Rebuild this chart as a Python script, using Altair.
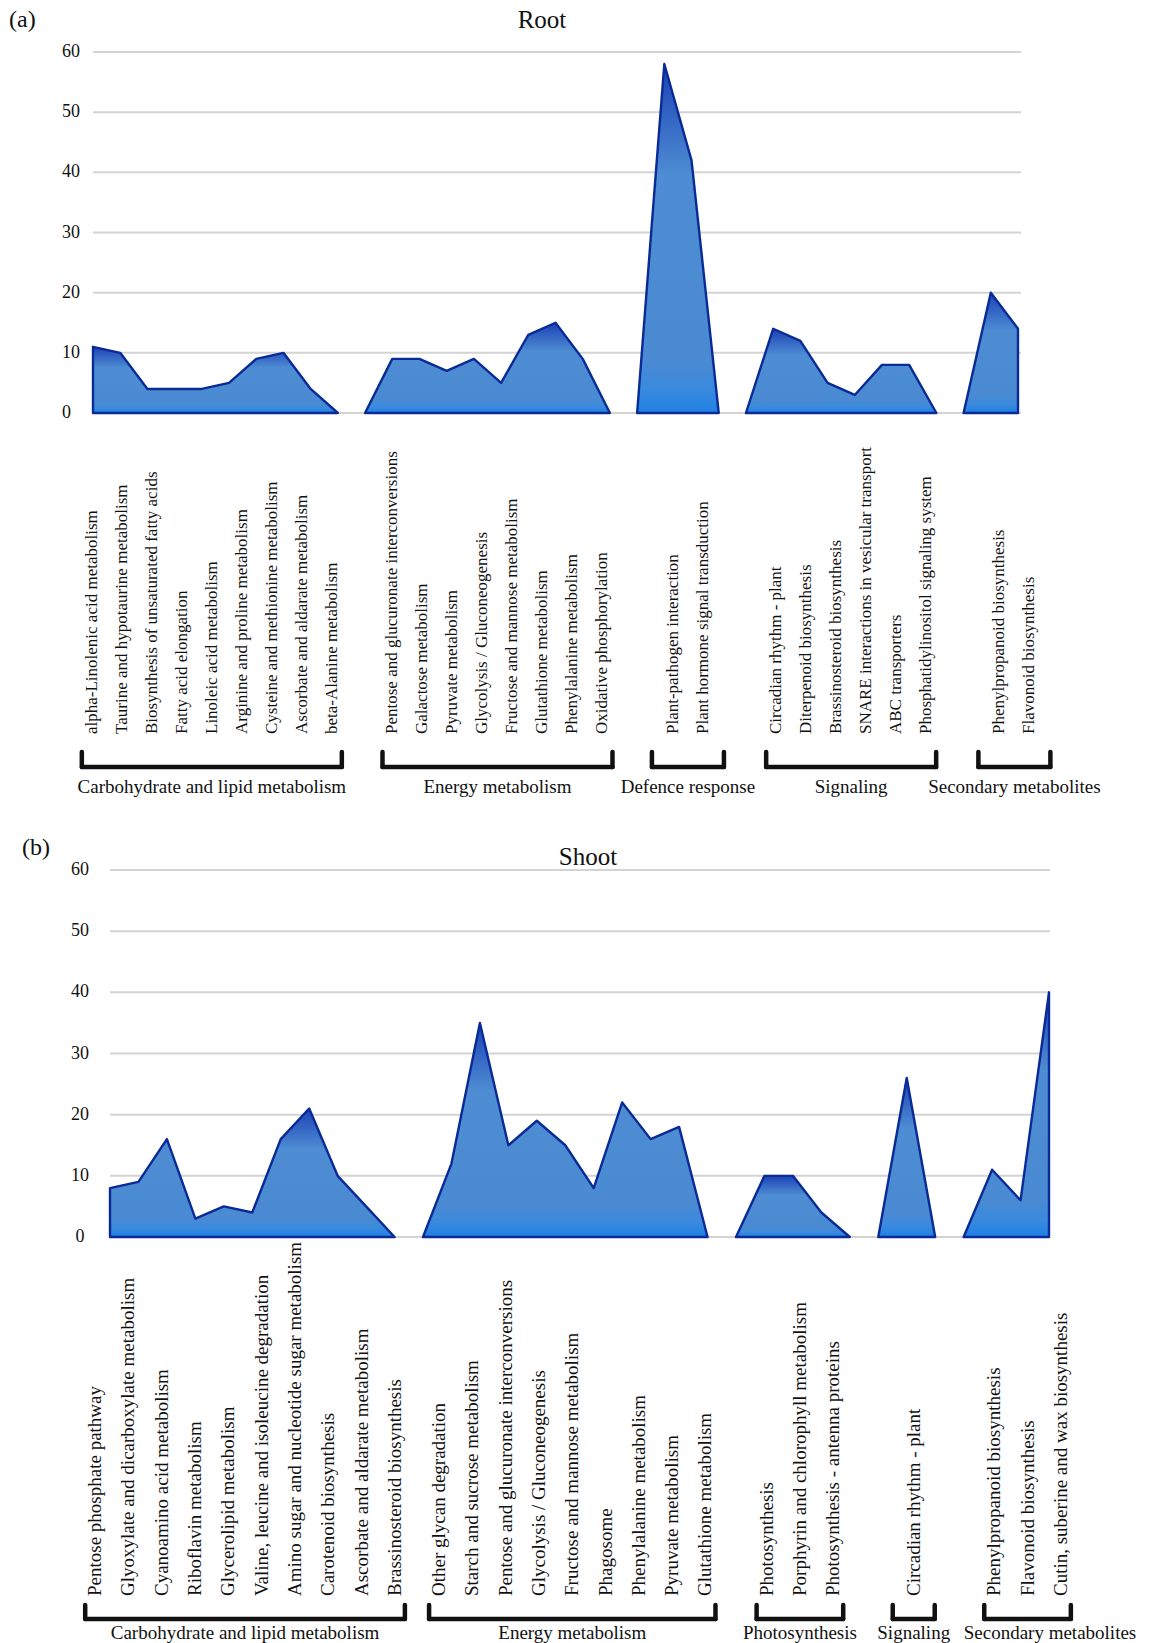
import altair as alt
import pandas as pd

# ---------------- Root ----------------
ROOT_GROUPS = ["Carbohydrate and lipid metabolism", "Energy metabolism",
               "Defence response", "Signaling", "Secondary metabolites"]
ROOT_CARB = [11, 10, 4, 4, 4, 5, 9, 10, 4, 0]
ROOT_ENERGY = [0, 9, 9, 7, 9, 5, 13, 15, 9, 0]
ROOT_DEFENCE = [0, 58, 42, 0]
ROOT_SIGNAL = [0, 14, 12, 5, 3, 8, 8, 0]
ROOT_SECONDARY = [0, 20, 14]

ROOT_CARB_PATHS = ["alpha-Linolenic acid metabolism", "Taurine and hypotaurine metabolism",
                   "Biosynthesis of unsaturated fatty acids", "Fatty acid elongation",
                   "Linoleic acid metabolism", "Arginine and proline metabolism",
                   "Cysteine and methionine metabolism", "Ascorbate and aldarate metabolism",
                   "beta-Alanine metabolism"]
ROOT_ENERGY_PATHS = ["Pentose and glucuronate interconversions", "Galactose metabolism",
                     "Pyruvate metabolism", "Glycolysis / Gluconeogenesis",
                     "Fructose and mannose metabolism", "Glutathione metabolism",
                     "Phenylalanine metabolism", "Oxidative phosphorylation"]
ROOT_DEFENCE_PATHS = ["Plant-pathogen interaction", "Plant hormone signal transduction"]
ROOT_SIGNAL_PATHS = ["Circadian rhythm - plant", "Diterpenoid biosynthesis",
                     "Brassinosteroid biosynthesis", "SNARE interactions in vesicular transport",
                     "ABC transporters", "Phosphatidylinositol signaling system"]
ROOT_SECONDARY_PATHS = ["Phenylpropanoid biosynthesis", "Flavonoid biosynthesis"]

# ---------------- Shoot ----------------
SHOOT_GROUPS = ["Carbohydrate and lipid metabolism", "Energy metabolism",
                "Photosynthesis", "Signaling", "Secondary metabolites"]
SHOOT_CARB = [8, 9, 16, 3, 5, 4, 16, 21, 10, 5, 0]
SHOOT_ENERGY = [0, 12, 35, 15, 19, 15, 8, 22, 16, 18, 0]
SHOOT_PHOTO = [0, 10, 10, 4, 0]
SHOOT_SIGNAL = [0, 26, 0]
SHOOT_SECONDARY = [0, 11, 6, 40]

SHOOT_CARB_PATHS = ["Pentose phosphate pathway", "Glyoxylate and dicarboxylate metabolism",
                    "Cyanoamino acid metabolism", "Riboflavin metabolism",
                    "Glycerolipid metabolism", "Valine, leucine and isoleucine degradation",
                    "Amino sugar and nucleotide sugar metabolism", "Carotenoid biosynthesis",
                    "Ascorbate and aldarate metabolism", "Brassinosteroid biosynthesis"]
SHOOT_ENERGY_PATHS = ["Other glycan degradation", "Starch and sucrose metabolism",
                      "Pentose and glucuronate interconversions", "Glycolysis / Gluconeogenesis",
                      "Fructose and mannose metabolism", "Phagosome",
                      "Phenylalanine metabolism", "Pyruvate metabolism", "Glutathione metabolism"]
SHOOT_PHOTO_PATHS = ["Photosynthesis", "Porphyrin and chlorophyll metabolism",
                     "Photosynthesis - antenna proteins"]
SHOOT_SIGNAL_PATHS = ["Circadian rhythm - plant"]
SHOOT_SECONDARY_PATHS = ["Phenylpropanoid biosynthesis", "Flavonoid biosynthesis",
                         "Cutin, suberine and wax biosynthesis"]

Y_TICKS = [0, 10, 20, 30, 40, 50, 60]

FONT = "Liberation Serif"
FILL = alt.Gradient(
    gradient="linear", x1=1, x2=1, y1=1, y2=0,
    stops=[alt.GradientStop(color="#1f80e4", offset=0.0),
           alt.GradientStop(color="#3a8ade", offset=0.07),
           alt.GradientStop(color="#4a8ad2", offset=0.15),
           alt.GradientStop(color="#4e8dd3", offset=0.68),
           alt.GradientStop(color="#1c42b6", offset=1.0)],
)

ROOT_LAYOUT = dict(title="Root", letter="(a)", title_xy=(542, 20), letter_xy=(9, 20),
                   x_range=(93, 1018), y0=413, y60=52, grid=(93, 1021),
                   tick_x=62, tick_align="left", label_fs=17, label_gap=30.0,
                   label_shift=10, label_bottom=734, br_top=752, br_bottom=767, name_y=787)
SHOOT_LAYOUT = dict(title="Shoot", letter="(b)", title_xy=(588, 857), letter_xy=(22, 848),
                    x_range=(110, 1049), y0=1237, y60=870, grid=(110, 1050),
                    tick_x=80, tick_align="center", label_fs=19, label_gap=33.3,
                    label_shift=7, label_bottom=1596, br_top=1605, br_bottom=1619, name_y=1633)


def panel(groups, series, paths, lay):
    n_points = sum(len(v) for v in series)
    x0, x1 = lay["x_range"]
    step = (x1 - x0) / (n_points - 1)
    xs = alt.Scale(domain=[0, n_points - 1], range=[x0, x1], nice=False, zero=False)
    ys = alt.Scale(domain=[0, 60], range=[lay["y0"], lay["y60"]], nice=False)
    to_idx = lambda px: (px - x0) / step

    pts, labels, spans, ends, names = [], [], [], [], []
    start = 0
    prev_right = -1e9
    for g, vals, plist in zip(groups, series, paths):
        for k, v in enumerate(vals):
            pts.append({"i": start + k, "v": v, "g": g})
        lo = start + (1 if vals[0] == 0 else 0)
        hi = start + len(vals) - 1 - (1 if vals[-1] == 0 else 0)
        centre = x0 + step * (lo + hi) / 2 + lay["label_shift"]
        n = len(plist)
        lab_px = [centre + (k - (n - 1) / 2) * lay["label_gap"] for k in range(n)]
        for p, px in zip(plist, lab_px):
            labels.append({"x": to_idx(px), "t": p})
        pad = 10 if n >= 3 else 21
        b0, b1 = lab_px[0] - pad, lab_px[-1] + pad
        spans.append({"b0": to_idx(b0), "b1": to_idx(b1)})
        ends += [{"b": to_idx(b0)}, {"b": to_idx(b1)}]
        # keep neighbouring group names from running into each other
        half = 0.45 * 19 * len(g) / 2
        c = (b0 + b1) / 2
        if c - half < prev_right + 8:
            c = prev_right + 8 + half
        prev_right = c + half
        names.append({"c": to_idx(c), "t": g})
        start += len(vals)

    X = lambda f: alt.X(f, scale=xs, axis=None)
    Y = lambda f: alt.Y(f, scale=ys, axis=None)

    ticks = pd.DataFrame({"v": Y_TICKS})
    grid = alt.Chart(ticks).mark_rule(color="#d3d3d3", strokeWidth=2).encode(
        y=Y("v:Q"), x=alt.value(lay["grid"][0]), x2=alt.value(lay["grid"][1]))
    tick_text = alt.Chart(ticks).mark_text(
        font=FONT, fontSize=18, color="#111", align=lay["tick_align"], baseline="middle"
    ).encode(y=Y("v:Q"), x=alt.value(lay["tick_x"]), text="v:Q")

    # one separate filled outline per pathway group; no stacking, so no zero-filling
    area = alt.Chart(pd.DataFrame(pts)).mark_area(
        fill=FILL, stroke="#0a2a96", strokeWidth=2.4, strokeJoin="round", interpolate="linear"
    ).encode(
        x=X("i:Q"),
        y=alt.Y("v:Q", scale=ys, axis=None, stack=False),
        detail="g:N",
    )

    path_text = alt.Chart(pd.DataFrame(labels)).mark_text(
        font=FONT, fontSize=lay["label_fs"], color="#111", angle=270, align="left", baseline="middle"
    ).encode(x=X("x:Q"), y=alt.value(lay["label_bottom"]), text="t:N")

    bar = alt.Chart(pd.DataFrame(spans)).mark_rule(
        color="#111", strokeWidth=4.5, strokeCap="round"
    ).encode(x=X("b0:Q"), x2="b1:Q", y=alt.value(lay["br_bottom"]))
    hooks = alt.Chart(pd.DataFrame(ends)).mark_rule(
        color="#111", strokeWidth=4.5, strokeCap="round"
    ).encode(x=X("b:Q"), y=alt.value(lay["br_top"]), y2=alt.value(lay["br_bottom"]))

    group_text = alt.Chart(pd.DataFrame(names)).mark_text(
        font=FONT, fontSize=19, color="#111", align="center", baseline="middle"
    ).encode(x=X("c:Q"), y=alt.value(lay["name_y"]), text="t:N")

    head = pd.DataFrame({"t": [lay["title"]]})
    title = alt.Chart(head).mark_text(
        font=FONT, fontSize=25, color="#111", align="center", baseline="middle"
    ).encode(x=alt.value(lay["title_xy"][0]), y=alt.value(lay["title_xy"][1]), text="t:N")
    letter = alt.Chart(pd.DataFrame({"t": [lay["letter"]]})).mark_text(
        font=FONT, fontSize=24, color="#111", align="left", baseline="middle"
    ).encode(x=alt.value(lay["letter_xy"][0]), y=alt.value(lay["letter_xy"][1]), text="t:N")

    return [grid, tick_text, area, path_text, bar, hooks, group_text, title, letter]


root_layers = panel(
    ROOT_GROUPS,
    [ROOT_CARB, ROOT_ENERGY, ROOT_DEFENCE, ROOT_SIGNAL, ROOT_SECONDARY],
    [ROOT_CARB_PATHS, ROOT_ENERGY_PATHS, ROOT_DEFENCE_PATHS, ROOT_SIGNAL_PATHS, ROOT_SECONDARY_PATHS],
    ROOT_LAYOUT,
)
shoot_layers = panel(
    SHOOT_GROUPS,
    [SHOOT_CARB, SHOOT_ENERGY, SHOOT_PHOTO, SHOOT_SIGNAL, SHOOT_SECONDARY],
    [SHOOT_CARB_PATHS, SHOOT_ENERGY_PATHS, SHOOT_PHOTO_PATHS, SHOOT_SIGNAL_PATHS, SHOOT_SECONDARY_PATHS],
    SHOOT_LAYOUT,
)

chart = alt.layer(*root_layers, *shoot_layers).resolve_scale(
    x="independent", y="independent"
).properties(
    width=1156, height=1643, autosize="none", padding=0, background="white"
).configure_view(strokeWidth=0)

chart.save("out.html", embed_options={"renderer": "svg", "actions": False})
